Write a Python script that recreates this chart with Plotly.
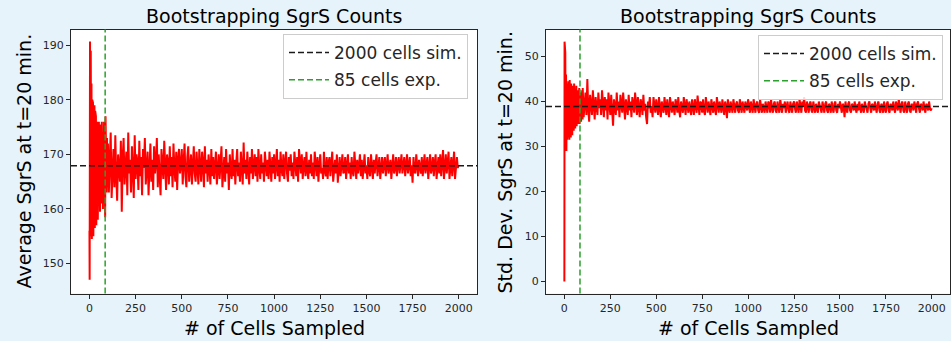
import plotly.graph_objects as go

# Sample sizes (number of cells sampled)
cells = [0] + list(range(1, 100, 2)) + list(range(100, 2000, 5)) + [1999]

# Bootstrapped average SgrS at t=20 min
avg_sgrs = [
    156,
    147, 190.7, 155, 189, 160, 183, 154.5, 180, 158, 179.5,
    155, 178, 160, 179, 156.5, 178, 161, 177, 157, 175,
    162, 176, 158, 174, 160, 176, 163, 172, 159.5, 175.5,
    163, 173, 161, 176, 165, 171, 160, 174, 164, 176,
    162, 172, 158.5, 177, 165, 171, 163, 173, 164, 170,
    172, 163, 169, 174, 162, 167.5, 171, 164, 173.5, 166, 161.5, 170, 168, 165, 172.5, 159.5, 169.5, 173, 164.5, 167,
    170.5, 162.5, 174, 166.5, 169, 163, 171.5, 167, 162, 173.5, 165.5, 170, 168.5, 163.5, 172.5, 166, 169.5, 162.5, 171, 167.5,
    173, 164.5, 168, 170.5, 162.5, 167, 172, 165, 169, 163.5, 171.5, 166.5, 168.5, 173, 164, 170, 166, 162.5, 171, 168,
    165.5, 172.5, 167, 163.5, 170, 168.5, 164.5, 171.5, 166, 169.5, 164, 172, 167.5, 165, 170.5, 163.5, 169, 171, 166.5, 168,
    171, 164.5, 168.5, 172, 166, 164, 169.5, 171.5, 165, 167.5, 170, 164.5, 168, 171.5, 166.5, 165, 170.5, 168, 164.5, 171,
    167, 165, 170.5, 168.5, 164, 171.5, 166.5, 169, 165, 170, 167.5, 164.5, 171, 166, 169.5, 165.5, 168, 170.5, 164.5, 167.5,
    170, 165.5, 168, 171.5, 164, 167, 169.5, 165, 171, 166.5, 168.5, 163.5, 170, 167, 165.5, 171, 166, 169, 164.5, 168.5,
    171, 166, 168.5, 165, 170.5, 167.5, 164.5, 172.2, 166.5, 169, 165.5, 170.5, 167, 164.5, 169.5, 166.5, 171, 165.5, 168, 170,
    166, 169.5, 165, 171, 167.5, 165.5, 170, 166.5, 168.5, 165, 170.5, 167, 166, 169, 165.5, 170.5, 167.5, 165, 169.5, 166.5,
    170, 165.5, 168, 171, 166, 169, 165, 170.5, 167.5, 166, 170, 165.5, 168.5, 170.5, 166.5, 165, 169.5, 167, 170, 166,
    168.5, 165.5, 170.5, 167, 166, 169.5, 165, 171, 167.5, 166.5, 170, 165.5, 168, 169.5, 166, 170.5, 167, 165.5, 169, 166.5,
    170, 166, 168.5, 165.5, 170.5, 167.5, 166, 169.5, 165, 168, 170, 166.5, 167.5, 165.5, 170.5, 167, 166, 169.5, 165.5, 168.5,
    169.5, 166, 168, 170.5, 165, 167.5, 169, 166.5, 170, 164.8, 168, 169.5, 166, 168.5, 170, 166.5, 167, 169.5, 165.5, 168,
    170, 166.5, 168.5, 165.5, 169.5, 167, 166, 170.5, 167.5, 165.5, 169, 166.5, 168, 170, 166, 169, 165.5, 168.5, 170, 166.5,
    168, 165.5, 169.5, 167, 166, 170, 167.5, 165.5, 169, 166.5, 168.5, 170, 166, 167.5, 169.5, 165.5, 168, 169.5, 166.5, 168,
    169.5, 166, 168, 170, 166.5, 167.5, 169, 165.5, 168.5, 170, 166.5, 167.5, 169.5, 166, 168, 169.5, 166.5, 168.5, 170, 166.5,
    168, 169.5, 166, 167.5, 170, 166.5, 168.5, 169.5, 166, 168, 164.8, 169.5, 167, 166.5, 170, 167.5, 166, 169, 167.5, 166.5,
    169.5, 166, 168, 170, 166.5, 168.5, 169.5, 165.5, 168, 170, 166.5, 167.5, 169.5, 166, 168.5, 170, 165.5, 168, 169.5, 166.5,
    170, 166, 168.5, 170.8, 165.5, 167.5, 170, 166.5, 168, 170.5, 165.5, 168, 169.5, 166, 168.5, 170.5, 165.5, 168, 169.5, 167.5,
    168,
]

# Bootstrapped standard deviation of SgrS at t=20 min
std_sgrs = [
    0,
    53.3, 27, 50.9, 30, 46, 29, 44, 31.5, 43, 32,
    44.5, 33, 42, 31.5, 44.8, 34, 43, 32, 44, 35,
    42.5, 32.5, 43.5, 34.5, 42, 33.5, 44, 35, 43, 34,
    42, 36, 43.5, 34.5, 41.5, 36, 42.5, 35, 41, 36.5,
    43, 35, 40.5, 37, 42, 35.5, 41, 37, 42.5, 36,
    43, 36.5, 40, 42, 37, 45, 38.5, 35.5, 41.5, 39, 37, 42.5, 38, 36, 41, 39.5, 37, 42, 38.5, 40.5,
    37, 42.5, 39, 36.5, 41, 38, 40.5, 36, 42, 39.5, 37, 41.5, 38.5, 34.6, 40.5, 39, 37, 42, 38, 40,
    36.5, 41.5, 39, 37.5, 42, 38.5, 36, 40.5, 39, 37, 41.5, 38, 40, 36.5, 41, 39.5, 37.5, 42, 38.5, 37,
    41, 38.5, 36.5, 40.5, 39.5, 37, 41.5, 38, 39.5, 36.5, 35, 40, 38.5, 41, 37.5, 39, 36.5, 41, 38.5, 37.5,
    40.5, 38, 37, 41, 39, 36.5, 40, 38.5, 37.5, 41, 39.5, 37, 40.5, 38, 36.5, 41, 39, 37.5, 40, 38.5,
    37, 40.5, 39.5, 37.5, 41, 38, 36.5, 40, 39, 37.5, 41, 38.5, 37, 40.5, 39, 37.5, 40, 38.5, 37, 40.5,
    38.5, 37, 40.5, 39, 37.5, 41.3, 38.5, 37, 40, 39.5, 37.5, 40.5, 38, 37, 41, 39, 37.5, 40, 38.5, 37,
    40.5, 39, 37.5, 40, 38.5, 37, 41, 38.5, 37.5, 40, 39, 37.5, 40.5, 38, 37, 40, 39, 36.3, 40.5, 38.5,
    37.5, 40, 39, 37.5, 40.5, 38.5, 37.5, 39.5, 40, 38, 37.5, 40.5, 39, 37.5, 40, 38.5, 37.5, 40, 39, 38,
    40.5, 38, 37.5, 40, 39, 37.5, 40.5, 38.5, 37.5, 39.5, 40, 38, 37.5, 40.5, 39, 37.5, 39.5, 38.5, 37.5, 40,
    38.5, 37.5, 40, 39.5, 37.5, 40.5, 38.5, 37.5, 39.5, 40, 38, 37.5, 40, 39, 37.5, 40.5, 38.5, 37.5, 39.5, 38.5,
    40, 37.5, 39, 40, 38, 37.5, 40, 39, 37.5, 39.5, 40, 38.5, 37.5, 40, 39, 37.5, 40.5, 38.5, 37.5, 40,
    39, 41, 38, 37.5, 40, 39, 37.5, 39.5, 40, 38, 37.5, 40, 39, 37.5, 39.5, 38.5, 37.5, 40, 39, 38,
    37.5, 40, 39, 37.5, 39.5, 40, 38, 37.5, 39.5, 39, 37.5, 40, 38.5, 37.5, 39.5, 40, 38, 37.5, 39.5, 38.5,
    40, 38, 37.5, 39.5, 39, 36.5, 40, 38.5, 37.5, 39.5, 40, 38, 37.5, 39.5, 39, 38, 40, 38.5, 37.5, 39.5,
    38, 40, 39, 37.5, 39.5, 38.5, 37.5, 40, 39, 38, 37.5, 39.5, 40, 38.5, 37.5, 39.5, 39, 38, 40, 38.5,
    37.5, 39.5, 40, 38, 37.5, 39.5, 39, 37.5, 40, 38.5, 37.5, 39.5, 40, 38, 37.5, 39.5, 39, 38, 40, 38.5,
    37.5, 40, 39, 38, 40.5, 38.5, 37.5, 39.5, 40, 38, 37.5, 40, 39, 37.5, 39.5, 40, 38, 37.5, 39.5, 39,
    38, 40, 39, 37.5, 39.5, 40, 38.5, 37.5, 39.5, 39, 38, 40, 38.5, 37.5, 39.5, 39, 38, 40, 38.5, 38,
    38.5,
]

assert len(cells) == len(avg_sgrs) == len(std_sgrs), (len(cells), len(avg_sgrs), len(std_sgrs))

sim_avg = 167.9      # 2000 cells simulation mean
sim_std = 38.9       # 2000 cells simulation std
exp_cells = 85       # experimental cell count

x_ticks = [0, 250, 500, 750, 1000, 1250, 1500, 1750, 2000]
y1_ticks = [150, 160, 170, 180, 190]
y2_ticks = [0, 10, 20, 30, 40, 50]

FONT = "DejaVu Sans"
INK = "#262626"
BG = "#e6f3fa"
LW = 2.0

fig = go.Figure()
fig.add_trace(go.Scatter(x=cells, y=avg_sgrs, mode="lines", xaxis="x", yaxis="y",
                         line=dict(color="#ff0000", width=LW), showlegend=False))
fig.add_trace(go.Scatter(x=cells, y=std_sgrs, mode="lines", xaxis="x2", yaxis="y2",
                         line=dict(color="#ff0000", width=LW), showlegend=False))

dash = "6px,3px"
# left panel reference lines (shapes with legend entries)
fig.add_shape(type="line", xref="x domain", yref="y", x0=0, x1=1, y0=sim_avg, y1=sim_avg,
              line=dict(color="#1a1a1a", width=1.5, dash=dash),
              showlegend=True, name="2000 cells sim.", legend="legend", legendgroup="a")
fig.add_shape(type="line", xref="x", yref="y domain", x0=exp_cells, x1=exp_cells, y0=0, y1=1,
              line=dict(color="#2ca02c", width=1.5, dash=dash),
              showlegend=True, name="85 cells exp.", legend="legend", legendgroup="b")
# right panel reference lines
fig.add_shape(type="line", xref="x2 domain", yref="y2", x0=0, x1=1, y0=sim_std, y1=sim_std,
              line=dict(color="#1a1a1a", width=1.5, dash=dash),
              showlegend=True, name="2000 cells sim.", legend="legend2", legendgroup="c")
fig.add_shape(type="line", xref="x2", yref="y2 domain", x0=exp_cells, x1=exp_cells, y0=0, y1=1,
              line=dict(color="#2ca02c", width=1.5, dash=dash),
              showlegend=True, name="85 cells exp.", legend="legend2", legendgroup="d")

axis_common = dict(showline=True, mirror=True, linecolor=INK, linewidth=1,
                   ticks="outside", ticklen=4, tickwidth=1, tickcolor=INK,
                   showgrid=False, zeroline=False,
                   tickfont=dict(family=FONT, size=11, color=INK))

yd = [1 - 293.5 / 341, 1 - 29.5 / 341]
legend_common = dict(xanchor="right", yanchor="top",
                     bgcolor="rgba(255,255,255,0.85)", bordercolor="#cccccc", borderwidth=1,
                     font=dict(family=FONT, size=17, color=INK), tracegroupgap=2,
                     itemwidth=40)
fig.update_layout(
    width=951, height=341,
    margin=dict(l=0, r=0, t=0, b=0),
    paper_bgcolor=BG, plot_bgcolor="white",
    font=dict(family=FONT, color=INK),
    xaxis=dict(domain=[71 / 951, 477 / 951], range=[-100, 2099], tickvals=x_ticks,
               anchor="y", **axis_common),
    yaxis=dict(domain=yd, range=[144.5, 192.9], tickvals=y1_ticks, anchor="x", **axis_common),
    xaxis2=dict(domain=[546 / 951, 950 / 951], range=[-100, 2099], tickvals=x_ticks,
                anchor="y2", **axis_common),
    yaxis2=dict(domain=yd, range=[-2.67, 56.0], tickvals=y2_ticks, anchor="x2", **axis_common),
    legend=dict(x=468 / 951, y=1 - 34 / 341, **legend_common),
    legend2=dict(x=943 / 951, y=1 - 35 / 341, **legend_common),
)

ann = []
for cx in [(71 + 477) / 2, (546 + 950) / 2]:
    ann.append(dict(text="Bootstrapping SgrS Counts", x=cx / 951, y=1 - 16 / 341,
                    xref="paper", yref="paper", showarrow=False,
                    font=dict(family=FONT, size=19, color="black"),
                    xanchor="center", yanchor="middle"))
    ann.append(dict(text="# of Cells Sampled", x=cx / 951, y=1 - 328 / 341,
                    xref="paper", yref="paper", showarrow=False,
                    font=dict(family=FONT, size=19, color="black"),
                    xanchor="center", yanchor="middle"))
ann.append(dict(text="Average SgrS at t=20 min.", x=23.5 / 951, y=1 - 161 / 341,
                xref="paper", yref="paper", showarrow=False, textangle=-90,
                font=dict(family=FONT, size=19, color="black"),
                xanchor="center", yanchor="middle"))
ann.append(dict(text="Std. Dev. SgrS at t=20 min.", x=504.5 / 951, y=1 - 163 / 341,
                xref="paper", yref="paper", showarrow=False, textangle=-90,
                font=dict(family=FONT, size=19, color="black"),
                xanchor="center", yanchor="middle"))
fig.update_layout(annotations=ann)

fig.write_html("out.html")
